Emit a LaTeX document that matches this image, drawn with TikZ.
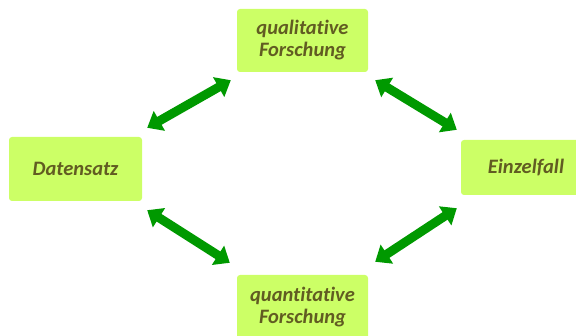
\documentclass[tikz,border=0pt]{standalone}
\usepackage{fontspec}
\setmainfont{Carlito}[Ligatures=NoCommon]
\usepackage{xcolor}
\usetikzlibrary{arrows.meta}
\definecolor{boxfill}{HTML}{CCFF66}
\definecolor{boxtext}{HTML}{615C22}
\definecolor{arrowgreen}{HTML}{009900}

\begin{document}
\begin{tikzpicture}[line cap=round,line join=round,x=1pt,y=1pt,
        feld/.style={fill=boxfill,draw=none,rounded corners=3pt,align=center,
            text=boxtext,font=\fontsize{20.5}{22}\selectfont\bfseries\itshape,inner sep=0pt},
        link/.style={draw=arrowgreen,line width=9pt,line cap=butt,
            {Triangle[length=14pt,width=22pt]}-{Triangle[length=14pt,width=22pt]}}]
                \useasboundingbox (0,0) rectangle (576,335);
                \node[feld,minimum width=131pt,minimum height=63pt] (qual) at (302.5,294.5) {qualitative\\Forschung};
                \node[feld,minimum width=133pt,minimum height=64pt] (dat) at (75.5,166) {Datensatz};
                \node[feld,minimum width=130pt,minimum height=55pt] (einz) at (526,167.5) {Einzelfall};
                \node[feld,minimum width=131pt,minimum height=64pt] (quan) at (302.5,28) {quantitative\\Forschung};
                \draw[link] ([shift={(5,9)}]dat.north east) -- ([shift={(-6,-8)}]qual.south west);
                \draw[link] ([shift={(7,-8)}]qual.south east) -- ([shift={(-4,10)}]einz.north west);
                \draw[link] ([shift={(5,-9)}]dat.south east) -- ([shift={(-7,12)}]quan.north west);
                \draw[link] ([shift={(-4,-13)}]einz.south west) -- ([shift={(7,13)}]quan.north east);
            \end{tikzpicture}
\end{document}
